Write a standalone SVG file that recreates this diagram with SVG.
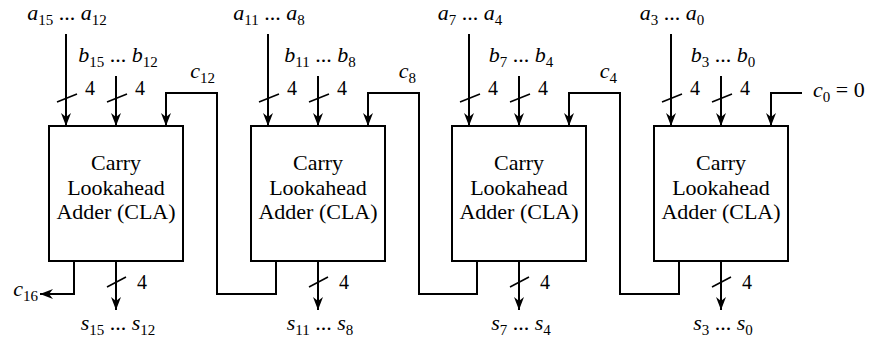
<svg xmlns="http://www.w3.org/2000/svg" width="871" height="341" viewBox="0 0 871 341">
<style>
text{font-family:"Liberation Serif","Times New Roman",serif;fill:#000}
.v{font-size:22px}
.i{font-style:italic}
.s{font-size:15px}
.n{font-size:20px}
.bt{font-size:22px;text-anchor:middle}
.box{fill:#fff;stroke:#000;stroke-width:2}
.w{fill:none;stroke:#000;stroke-width:2}
.ar{marker-end:url(#ah)}
.sl{stroke:#000;stroke-width:1.6}
</style>
<defs>
<marker id="ah" viewBox="-14 -6 16 12" refX="0" refY="0" markerWidth="16" markerHeight="12" markerUnits="userSpaceOnUse" orient="auto"><path d="M0,0 L-13,-5 L-9,0 L-13,5 Z" fill="#000"/></marker>
</defs>
<g id="connectors">
<!-- box1 inputs -->
<path class="w ar" d="M66,34 V126"/>
<path class="w ar" d="M116,76 V126"/>
<path class="w ar" d="M276,261 V294 H217 V93 H166 V126"/>
<path class="w ar" d="M74,261 V294 H40"/>
<path class="w ar" d="M116,261 V310"/>
<!-- box2 -->
<path class="w ar" d="M268,34 V126"/>
<path class="w ar" d="M318,76 V126"/>
<path class="w ar" d="M477,261 V294 H419 V93 H368 V126"/>
<path class="w ar" d="M318,261 V310"/>
<!-- box3 -->
<path class="w ar" d="M469,34 V126"/>
<path class="w ar" d="M519,76 V126"/>
<path class="w ar" d="M679,261 V294 H620 V93 H569 V126"/>
<path class="w ar" d="M519,261 V310"/>
<!-- box4 -->
<path class="w ar" d="M671,34 V126"/>
<path class="w ar" d="M721,76 V126"/>
<path class="w ar" d="M802,93 H771 V126"/>
<path class="w ar" d="M721,261 V310"/>
<!-- slashes -->
<path class="sl" d="M57,102 L77,94 M107,102 L127,94 M107,287 L126,277"/>
<path class="sl" d="M259,102 L279,94 M309,102 L329,94 M309,287 L328,277"/>
<path class="sl" d="M460,102 L480,94 M510,102 L530,94 M510,287 L529,277"/>
<path class="sl" d="M662,102 L682,94 M712,102 L732,94 M712,287 L731,277"/>
</g>
<g id="cla1">
<rect class="box" x="49" y="126" width="134" height="135"/>
<text class="bt" x="116" y="170">Carry</text>
<text class="bt" x="116" y="195">Lookahead</text>
<text class="bt" x="116" y="219">Adder (CLA)</text>
</g>
<g id="cla2">
<rect class="box" x="251" y="126" width="134" height="135"/>
<text class="bt" x="318" y="170">Carry</text>
<text class="bt" x="318" y="195">Lookahead</text>
<text class="bt" x="318" y="219">Adder (CLA)</text>
</g>
<g id="cla3">
<rect class="box" x="452" y="126" width="134" height="135"/>
<text class="bt" x="519" y="170">Carry</text>
<text class="bt" x="519" y="195">Lookahead</text>
<text class="bt" x="519" y="219">Adder (CLA)</text>
</g>
<g id="cla4">
<rect class="box" x="654" y="126" width="134" height="135"/>
<text class="bt" x="721" y="170">Carry</text>
<text class="bt" x="721" y="195">Lookahead</text>
<text class="bt" x="721" y="219">Adder (CLA)</text>
</g>
<g id="labels">
<text class="v" x="67" y="20" text-anchor="middle"><tspan class="i">a</tspan><tspan class="s" dy="5">15</tspan><tspan dy="-5"> ... </tspan><tspan class="i">a</tspan><tspan class="s" dy="5">12</tspan></text>
<text class="v" x="118" y="62" text-anchor="middle"><tspan class="i">b</tspan><tspan class="s" dy="5">15</tspan><tspan dy="-5"> ... </tspan><tspan class="i">b</tspan><tspan class="s" dy="5">12</tspan></text>
<text class="v" x="269" y="20" text-anchor="middle"><tspan class="i">a</tspan><tspan class="s" dy="5">11</tspan><tspan dy="-5"> ... </tspan><tspan class="i">a</tspan><tspan class="s" dy="5">8</tspan></text>
<text class="v" x="320" y="62" text-anchor="middle"><tspan class="i">b</tspan><tspan class="s" dy="5">11</tspan><tspan dy="-5"> ... </tspan><tspan class="i">b</tspan><tspan class="s" dy="5">8</tspan></text>
<text class="v" x="470" y="20" text-anchor="middle"><tspan class="i">a</tspan><tspan class="s" dy="5">7</tspan><tspan dy="-5"> ... </tspan><tspan class="i">a</tspan><tspan class="s" dy="5">4</tspan></text>
<text class="v" x="521" y="62" text-anchor="middle"><tspan class="i">b</tspan><tspan class="s" dy="5">7</tspan><tspan dy="-5"> ... </tspan><tspan class="i">b</tspan><tspan class="s" dy="5">4</tspan></text>
<text class="v" x="672" y="20" text-anchor="middle"><tspan class="i">a</tspan><tspan class="s" dy="5">3</tspan><tspan dy="-5"> ... </tspan><tspan class="i">a</tspan><tspan class="s" dy="5">0</tspan></text>
<text class="v" x="723" y="62" text-anchor="middle"><tspan class="i">b</tspan><tspan class="s" dy="5">3</tspan><tspan dy="-5"> ... </tspan><tspan class="i">b</tspan><tspan class="s" dy="5">0</tspan></text>
<text class="n" x="85" y="95">4</text><text class="n" x="135" y="95">4</text><text class="n" x="137" y="289">4</text>
<text class="n" x="287" y="95">4</text><text class="n" x="337" y="95">4</text><text class="n" x="339" y="289">4</text>
<text class="n" x="488" y="95">4</text><text class="n" x="538" y="95">4</text><text class="n" x="540" y="289">4</text>
<text class="n" x="690" y="95">4</text><text class="n" x="740" y="95">4</text><text class="n" x="742" y="289">4</text>
<text class="v" x="215" y="78" text-anchor="end"><tspan class="i">c</tspan><tspan class="s" dy="5">12</tspan></text>
<text class="v" x="416" y="78" text-anchor="end"><tspan class="i">c</tspan><tspan class="s" dy="5">8</tspan></text>
<text class="v" x="617" y="78" text-anchor="end"><tspan class="i">c</tspan><tspan class="s" dy="5">4</tspan></text>
<text class="v" x="813" y="97"><tspan class="i">c</tspan><tspan class="s" dy="5">0</tspan><tspan dy="-5"> = 0</tspan></text>
<text class="v" x="38" y="296" text-anchor="end"><tspan class="i">c</tspan><tspan class="s" dy="5">16</tspan></text>
<text class="v" x="118" y="330" text-anchor="middle"><tspan class="i">s</tspan><tspan class="s" dy="5">15</tspan><tspan dy="-5"> ... </tspan><tspan class="i">s</tspan><tspan class="s" dy="5">12</tspan></text>
<text class="v" x="320" y="330" text-anchor="middle"><tspan class="i">s</tspan><tspan class="s" dy="5">11</tspan><tspan dy="-5"> ... </tspan><tspan class="i">s</tspan><tspan class="s" dy="5">8</tspan></text>
<text class="v" x="521" y="330" text-anchor="middle"><tspan class="i">s</tspan><tspan class="s" dy="5">7</tspan><tspan dy="-5"> ... </tspan><tspan class="i">s</tspan><tspan class="s" dy="5">4</tspan></text>
<text class="v" x="723" y="330" text-anchor="middle"><tspan class="i">s</tspan><tspan class="s" dy="5">3</tspan><tspan dy="-5"> ... </tspan><tspan class="i">s</tspan><tspan class="s" dy="5">0</tspan></text>
</g>
</svg>
